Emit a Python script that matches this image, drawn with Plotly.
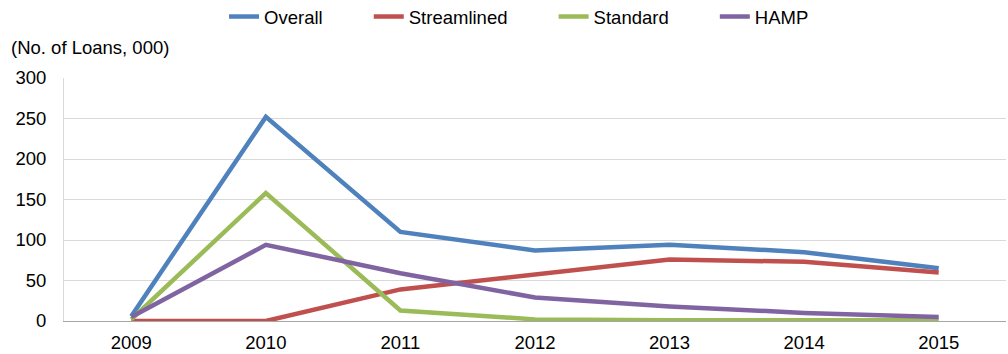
import plotly.graph_objects as go

years = [2009, 2010, 2011, 2012, 2013, 2014, 2015]
year_labels = ["2009", "2010", "2011", "2012", "2013", "2014", "2015"]
overall = [6, 252, 110, 87, 94, 85, 65]
streamlined = [0, 0, 39, 58, 76, 73, 60]
standard = [2, 158, 13, 2, 1, 1, 1]
hamp = [5, 94, 59, 29, 18, 10, 5]

series = [
    ("Overall", overall, "#4F81BD"),
    ("Streamlined", streamlined, "#C0504D"),
    ("Standard", standard, "#9BBB59"),
    ("HAMP", hamp, "#8064A2"),
]

PAD = "\u00a0" * 8  # extra spacing between legend entries

fig = go.Figure()
for i, (name, vals, color) in enumerate(series):
    label = name if i == len(series) - 1 else name + PAD
    fig.add_trace(go.Scatter(
        x=years, y=vals, name=label, mode="lines",
        line=dict(color=color, width=4.5),
    ))

FONT = 18.5

fig.update_layout(
    width=1008, height=354,
    margin=dict(l=64, r=2, t=78, b=33),
    paper_bgcolor="white", plot_bgcolor="white",
    font=dict(family="Liberation Sans, Arial, sans-serif", size=FONT, color="#000000"),
    showlegend=True,
    legend=dict(
        orientation="h", x=0.1699, xanchor="left",
        y=0.952, yref="container", yanchor="middle",
        tracegroupgap=0, font=dict(size=FONT),
    ),
    xaxis=dict(
        range=[2008.5, 2015.5], tickvals=years, ticktext=year_labels,
        showgrid=False, zeroline=False, showline=True, linecolor="#A6A6A6",
        linewidth=1, ticks="outside", ticklen=5, tickcolor="rgba(0,0,0,0)",
        fixedrange=True,
    ),
    yaxis=dict(
        range=[0, 300], dtick=50, showgrid=True, gridcolor="#D9D9D9",
        gridwidth=1, showline=True, linecolor="#D9D9D9", zeroline=False,
        ticks="outside", ticklen=13, tickcolor="rgba(0,0,0,0)",
    ),
    annotations=[dict(
        text="(No. of Loans, 000)", xref="paper", yref="paper",
        x=-0.058, y=(321 - 48) / 243, xanchor="left", yanchor="middle",
        showarrow=False, font=dict(size=FONT),
    )],
)

fig.write_html("out.html")
